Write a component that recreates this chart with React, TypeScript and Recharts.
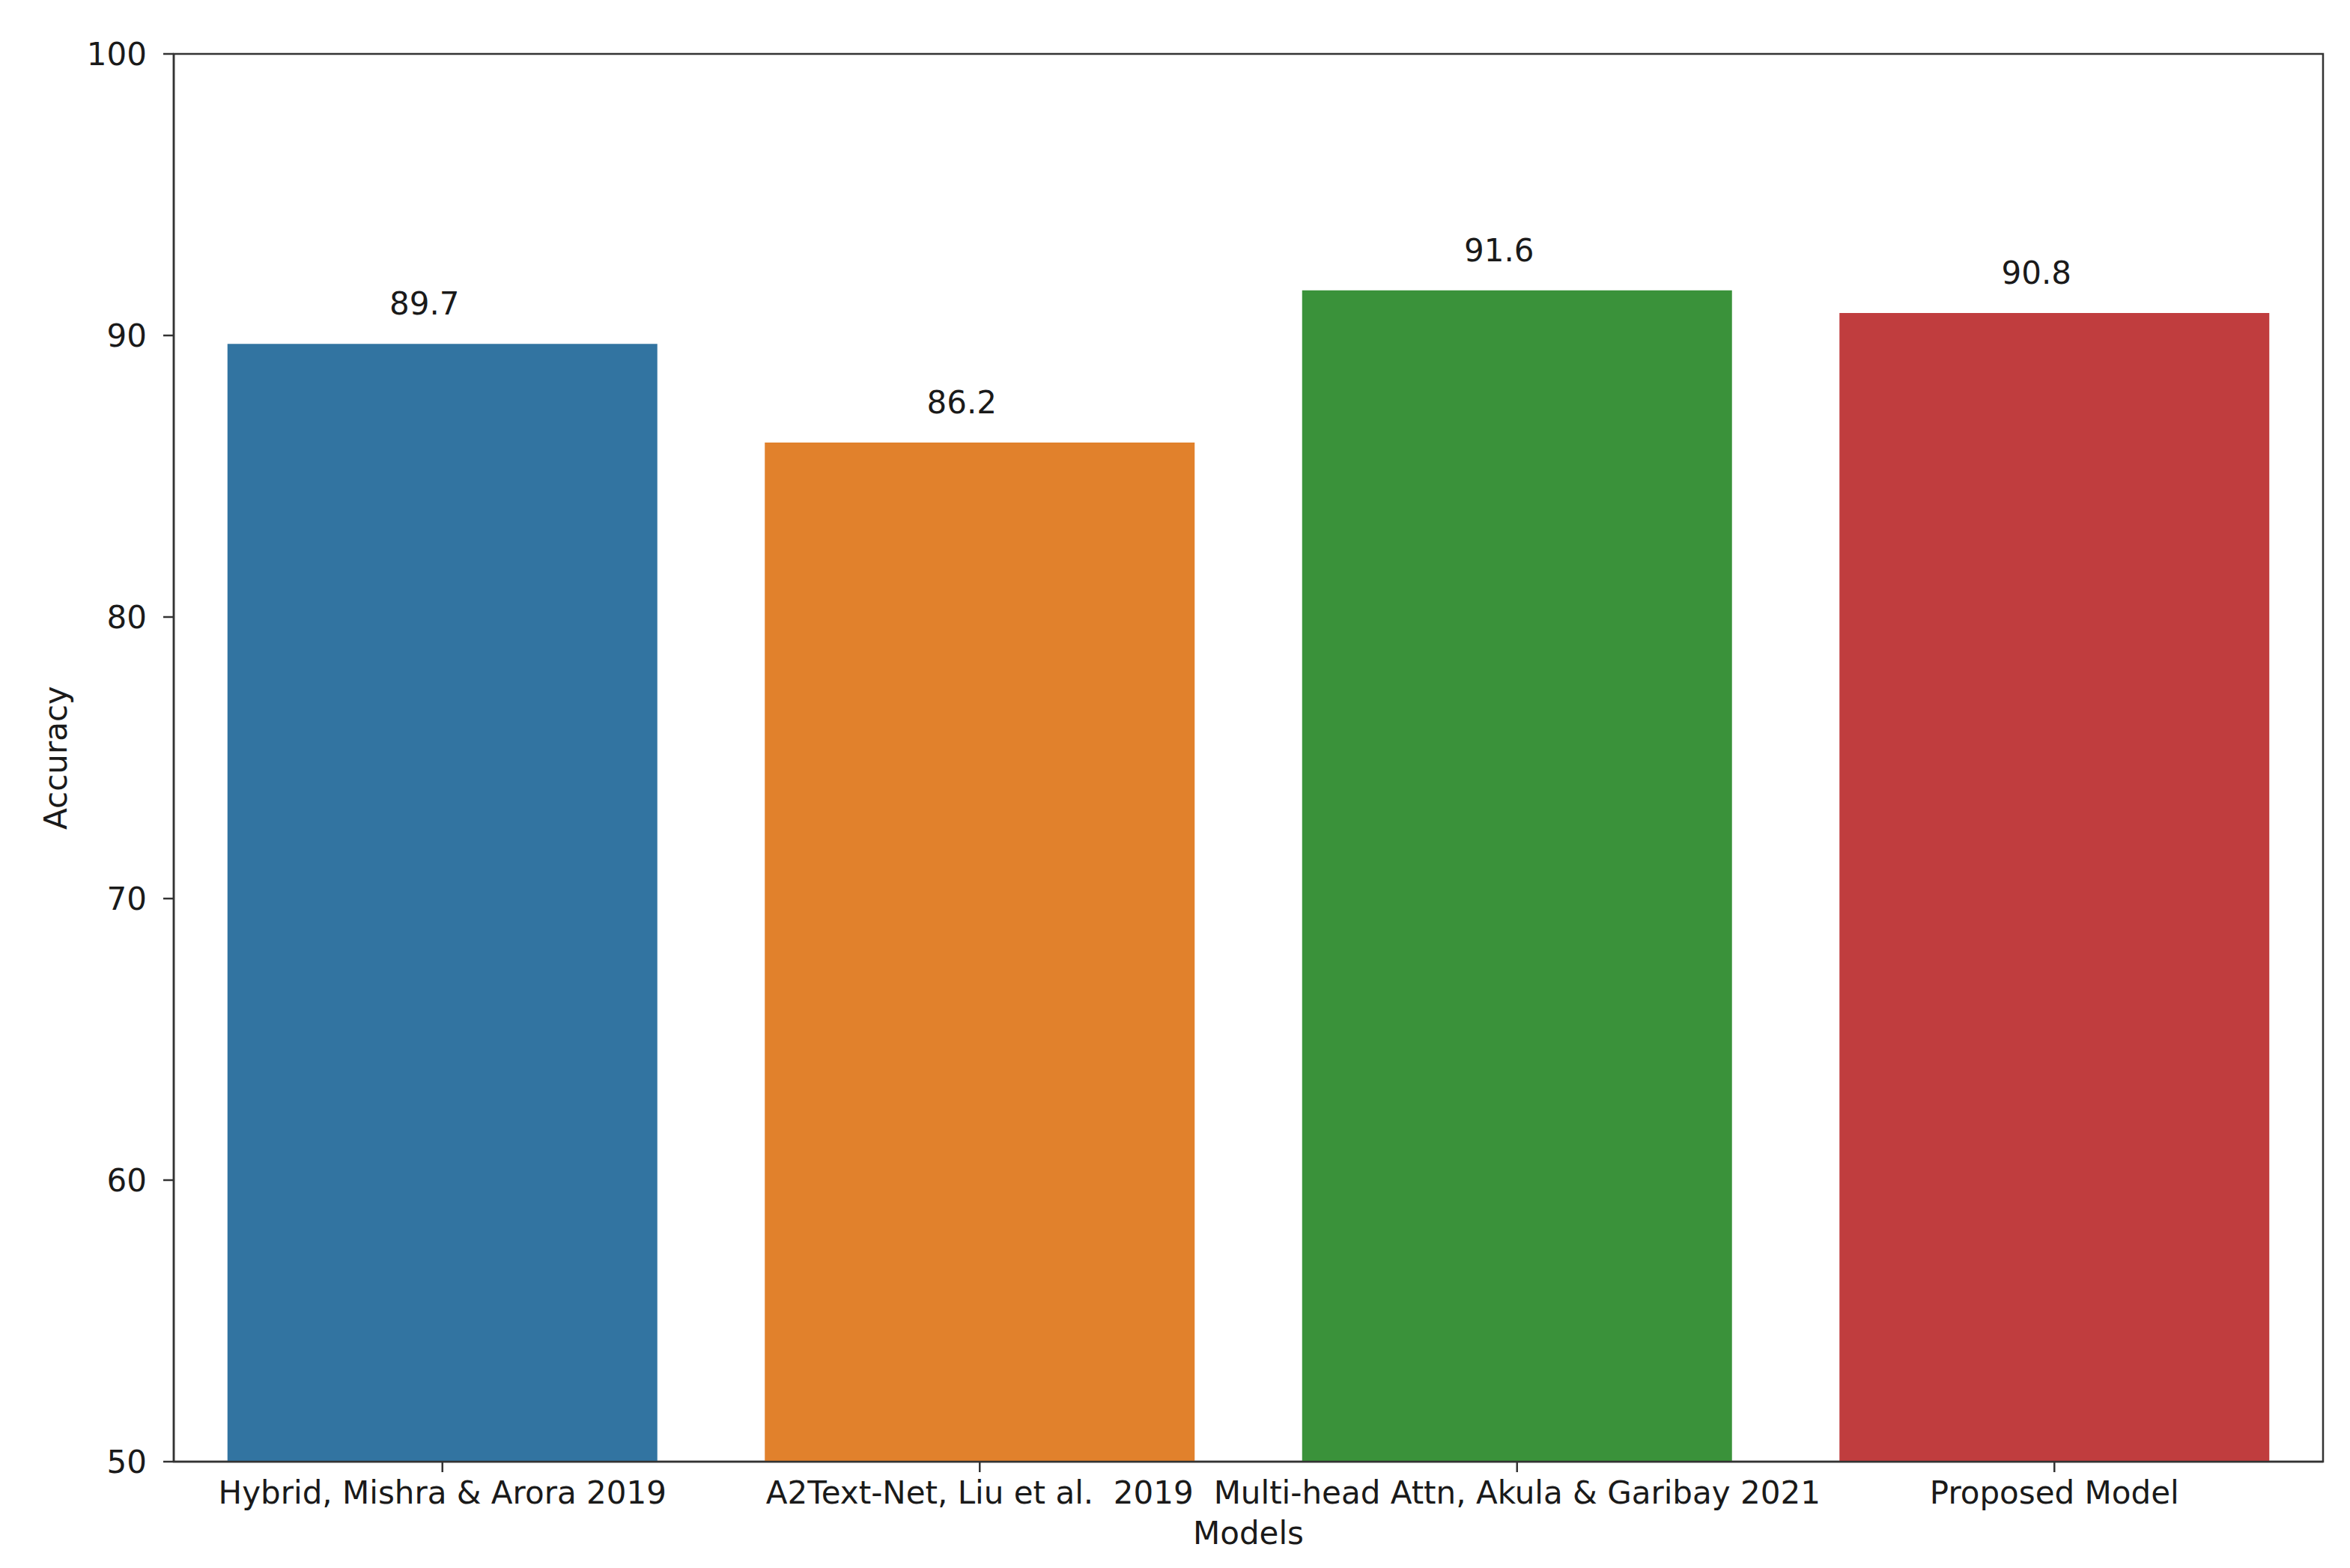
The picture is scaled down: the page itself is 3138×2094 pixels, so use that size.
import React from 'react';
import {
  BarChart,
  Bar,
  XAxis,
  YAxis,
  Cell,
  LabelList,
  ReferenceArea,
} from 'recharts';

const models = [
  'Hybrid, Mishra & Arora 2019',
  'A2Text-Net, Liu et al.  2019',
  'Multi-head Attn, Akula & Garibay 2021',
  'Proposed Model',
];
const accuracy = [89.7, 86.2, 91.6, 90.8];
const barColors = ['#3274a1', '#e1812c', '#3a923a', '#c03d3e'];
const yTicks = [50, 60, 70, 80, 90, 100];

const data = models.map((name, i) => ({ name, accuracy: accuracy[i] }));

const FONT = 'DejaVu Sans, sans-serif';
const TEXT = '#1a1a1a';
const AXIS = '#333';

const ModelTick = ({ x, y, payload }: any) => (
  <text
    x={x}
    y={y}
    dy="0.71em"
    textAnchor="middle"
    fontSize={42}
    fontFamily={FONT}
    fill={TEXT}
    style={{ whiteSpace: 'pre' }}
  >
    {payload.value}
  </text>
);

// value label above each bar, nudged left like the original annotate call
const ValueLabel = ({ x, y, width, value }: any) => (
  <text
    x={x + width / 2 - 24}
    y={y - 39}
    textAnchor="middle"
    fontSize={42}
    fontFamily={FONT}
    fill={TEXT}
  >
    {value}
  </text>
);

export default function App() {
  return (
    <div style={{ position: 'absolute', left: 0, top: 0, background: '#fff' }}>
      <BarChart
        width={3138}
        height={2094}
        data={data}
        margin={{ top: 72, right: 36, left: 0, bottom: 0 }}
        barCategoryGap="10%"
      >
        <ReferenceArea
          y1={50}
          y2={100}
          fill="none"
          stroke={AXIS}
          strokeWidth={2.5}
          ifOverflow="visible"
        />
        <XAxis
          dataKey="name"
          height={142}
          interval={0}
          tickSize={14}
          tickMargin={12}
          tick={<ModelTick />}
          axisLine={{ stroke: AXIS, strokeWidth: 2.5 }}
          tickLine={{ stroke: AXIS, strokeWidth: 2.5 }}
          label={{
            content: ({ viewBox }: any) => (
              <text
                x={viewBox.x + viewBox.width / 2}
                y={viewBox.y + 80}
                dy="0.71em"
                textAnchor="middle"
                fontSize={42}
                fontFamily={FONT}
                fill={TEXT}
              >
                Models
              </text>
            ),
          }}
        />
        <YAxis
          width={232}
          domain={[50, 100]}
          ticks={yTicks}
          allowDataOverflow
          tickSize={14}
          tickMargin={22}
          tick={{ fontSize: 42, fontFamily: FONT, fill: TEXT }}
          axisLine={{ stroke: AXIS, strokeWidth: 2.5 }}
          tickLine={{ stroke: AXIS, strokeWidth: 2.5 }}
          label={{
            content: ({ viewBox }: any) => {
              const cx = viewBox.x + 74;
              const cy = viewBox.y + viewBox.height / 2;
              return (
                <text
                  x={cx}
                  y={cy}
                  transform={`rotate(-90 ${cx} ${cy})`}
                  textAnchor="middle"
                  dominantBaseline="central"
                  fontSize={42}
                  fontFamily={FONT}
                  fill={TEXT}
                >
                  Accuracy
                </text>
              );
            },
          }}
        />
        <Bar dataKey="accuracy" isAnimationActive={false}>
          {data.map((entry, index) => (
            <Cell key={`cell-${index}`} fill={barColors[index]} />
          ))}
          <LabelList dataKey="accuracy" content={<ValueLabel />} />
        </Bar>
      </BarChart>
    </div>
  );
}
